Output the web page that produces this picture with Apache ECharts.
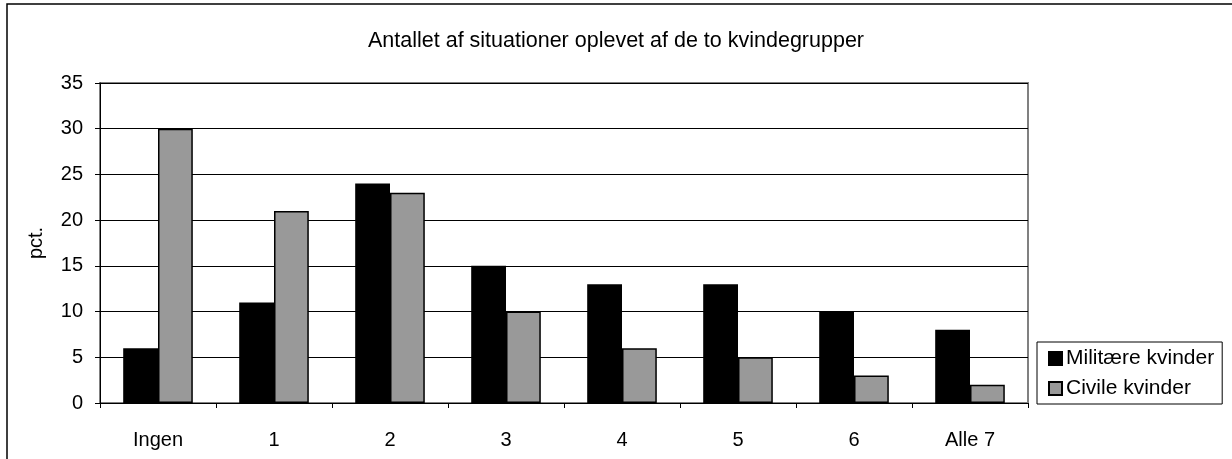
<!DOCTYPE html>
<html>
<head>
<meta charset="utf-8">
<script src="https://cdn.jsdelivr.net/npm/echarts@6/dist/echarts.min.js"></script>
<style>
	html, body { margin: 0; padding: 0; background: #fff; }
	#chart { width: 1232px; height: 459px; }
</style>
</head>
<body>
<div id="chart"></div>
<script>
var categories = ['Ingen', '1', '2', '3', '4', '5', '6', 'Alle 7'];
var militaere = [6, 11, 24, 15, 13, 13, 10, 8];
var civile = [30, 21, 23, 10, 6, 5, 3, 2];
var seriesNames = ['Militære kvinder', 'Civile kvinder'];

var font = '"Liberation Sans", Arial, sans-serif';

var option = {
	animation: false,
	backgroundColor: '#fff',
	title: {
		text: 'Antallet af situationer oplevet af de to kvindegrupper',
		left: 'center',
		top: 25,
		textStyle: {
			fontFamily: font,
			fontSize: 21.5,
			fontWeight: 'normal',
			color: '#000'
		}
	},
	graphic: [{
		type: 'rect',
		shape: { x: 7, y: 4, width: 1400, height: 600 },
		style: { fill: 'none', stroke: '#000', lineWidth: 1.5 },
		silent: true
	}],
	legend: {
		orient: 'vertical',
		left: 1037,
		top: 342,
		padding: [6, 8, 5, 11],
		itemGap: 9,
		itemWidth: 13,
		itemHeight: 13,
		borderColor: '#000',
		borderWidth: 1,
		textStyle: { fontFamily: font, fontSize: 21, lineHeight: 21, color: '#000', padding: [0, 0, 0, -1] },
		data: [
			{ name: seriesNames[0], icon: 'rect' },
			{ name: seriesNames[1], icon: 'rect' }
		]
	},
	grid: {
		left: 100,
		top: 83,
		right: 204,
		bottom: 56,
		show: true,
		borderColor: '#808080',
		borderWidth: 2,
		backgroundColor: '#fff'
	},
	xAxis: {
		type: 'category',
		data: categories,
		axisLine: { lineStyle: { color: '#000', width: 1 } },
		axisTick: { show: true, alignWithLabel: false, length: 5, lineStyle: { color: '#000' } },
		axisLabel: { fontFamily: font, fontSize: 20, color: '#000', margin: 27, interval: 0 }
	},
	yAxis: {
		type: 'value',
		min: 0,
		max: 35,
		interval: 5,
		name: 'pct.',
		nameLocation: 'middle',
		nameGap: 54,
		nameTextStyle: { fontFamily: font, fontSize: 20, color: '#000' },
		axisLine: { show: true, lineStyle: { color: '#000', width: 1 } },
		axisTick: { show: true, length: 5, lineStyle: { color: '#000' } },
		axisLabel: { fontFamily: font, fontSize: 20, color: '#000', margin: 17 },
		splitLine: { lineStyle: { color: '#000', width: 1 } }
	},
	series: [{
		name: seriesNames[0],
		type: 'bar',
		data: militaere,
		barGap: '0%',
		barCategoryGap: '40%',
		itemStyle: { color: '#000', borderColor: '#000', borderWidth: 1.5 }
	}, {
		name: seriesNames[1],
		type: 'bar',
		data: civile,
		barGap: '0%',
		barCategoryGap: '40%',
		itemStyle: { color: '#999999', borderColor: '#000', borderWidth: 1.5 }
	}]
};

var chart = echarts.init(document.getElementById('chart'));
chart.setOption(option);
</script>
</body>
</html>
